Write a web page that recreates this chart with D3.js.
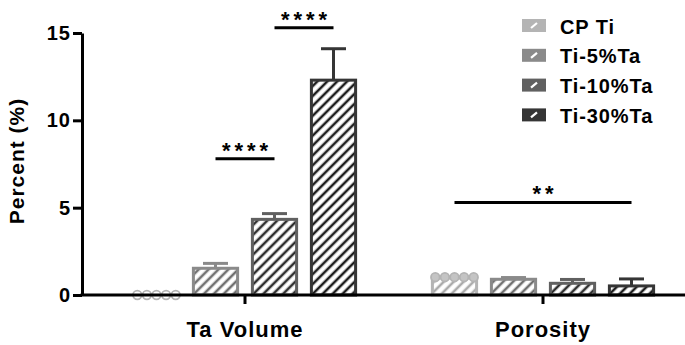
<!DOCTYPE html>
<html lang="en">
<head>
<meta charset="UTF-8">
<title>Ta volume and porosity</title>
<script src="https://cdn.jsdelivr.net/npm/d3@7"></script>
<style>
  html, body { margin: 0; padding: 0; background: #fff; }
  text { font-family: "Liberation Sans", Arial, sans-serif; font-weight: bold; }
</style>
</head>
<body>
<div id="chart-container"></div>
<script>

  // data
  var categories = ["Ta Volume", "Porosity"];
  var seriesNames = ["CP Ti", "Ti-5%Ta", "Ti-10%Ta", "Ti-30%Ta"];
  var taVolumeMean = [0.02, 1.53, 4.33, 12.3];
  var taVolumeSD = [0, 0.28, 0.33, 1.8];
  var porosityMean = [0.98, 0.9, 0.67, 0.52];
  var porositySD = [0.05, 0.1, 0.22, 0.4];
  var cpTiTaVolumePoints = [0, 0, 0, 0, 0];
  var cpTiPorosityPoints = [1.02, 1.02, 1.02, 1.02, 1.02];
  var yTicks = [0, 5, 10, 15];
  var sigLabels = ["****", "****", "**"];

  var outlineColors = ["#b4b4b4", "#8a8a8a", "#606060", "#353535"];
  var hatchColors = ["#ababab", "#707070", "#2e2e2e", "#1e1e1e"];

  var width = 685, height = 345;

  var svg = d3.select("#chart-container").append("svg")
    .attr("width", width).attr("height", height);

  var y = d3.scaleLinear().domain([0, 15]).range([295, 33]);
  var x0 = d3.scaleBand().domain(categories).range([96, 692]);
  var x1 = d3.scaleBand().domain(seriesNames).range([0, 236])
    .paddingInner(0.2).paddingOuter(0.1);

  function barLeft(cat, s) {
    return x0(cat) + x0.bandwidth() / 2 - 118 + x1(s);
  }
  function barCenter(cat, s) {
    return barLeft(cat, s) + x1.bandwidth() / 2;
  }

  // hatch patterns
  var defs = svg.append("defs");
  seriesNames.forEach(function(s, i) {
    var p = defs.append("pattern")
      .attr("id", "hatch" + i)
      .attr("patternUnits", "userSpaceOnUse")
      .attr("width", 7).attr("height", 7)
      .attr("patternTransform", "rotate(45)");
    p.append("rect").attr("width", 7).attr("height", 7).attr("fill", "#fff");
    p.append("line").attr("x1", 2).attr("y1", 0).attr("x2", 2).attr("y2", 7)
      .attr("stroke", hatchColors[i]).attr("stroke-width", 2.6);
  });

  var rows = [];
  categories.forEach(function(cat, c) {
    var means = c === 0 ? taVolumeMean : porosityMean;
    var sds = c === 0 ? taVolumeSD : porositySD;
    seriesNames.forEach(function(s, i) {
      rows.push({ cat: cat, s: s, i: i, mean: means[i], sd: sds[i] });
    });
  });

  // error bars (upper only)
  var eb = svg.append("g").selectAll("g").data(rows.filter(function(d) { return d.sd > 0; }))
    .enter().append("g")
    .attr("stroke", function(d) { return outlineColors[d.i]; })
    .attr("stroke-width", 3);
  eb.append("line")
    .attr("x1", function(d) { return barCenter(d.cat, d.s); })
    .attr("x2", function(d) { return barCenter(d.cat, d.s); })
    .attr("y1", function(d) { return y(d.mean); })
    .attr("y2", function(d) { return y(d.mean + d.sd); });
  eb.append("line")
    .attr("x1", function(d) { return barCenter(d.cat, d.s) - 12.5; })
    .attr("x2", function(d) { return barCenter(d.cat, d.s) + 12.5; })
    .attr("y1", function(d) { return y(d.mean + d.sd); })
    .attr("y2", function(d) { return y(d.mean + d.sd); });

  // bars
  svg.append("g").selectAll("rect").data(rows)
    .enter().append("rect")
    .attr("x", function(d) { return barLeft(d.cat, d.s) + 1.5; })
    .attr("width", x1.bandwidth() - 3)
    .attr("y", function(d) { return y(d.mean); })
    .attr("height", function(d) { return y(0) - y(d.mean); })
    .attr("fill", function(d) { return "url(#hatch" + d.i + ")"; })
    .attr("stroke", function(d) { return outlineColors[d.i]; })
    .attr("stroke-width", 3);

  // CP Ti data points
  function drawPoints(cat, pts, fill) {
    var n = pts.length;
    svg.append("g").selectAll("circle").data(pts)
      .enter().append("circle")
      .attr("cx", function(d, k) { return barCenter(cat, "CP Ti") + (k - (n - 1) / 2) * 9.6; })
      .attr("cy", function(d) { return y(d); })
      .attr("r", 4.3)
      .attr("fill", fill)
      .attr("stroke", outlineColors[0])
      .attr("stroke-width", 1.8);
  }
  drawPoints(categories[0], cpTiTaVolumePoints, "#fff");
  drawPoints(categories[1], cpTiPorosityPoints, "#c4c4c4");

  // y axis
  var yAxis = svg.append("g")
    .attr("transform", "translate(82,0)")
    .call(d3.axisLeft(y).tickValues(yTicks).tickSize(9).tickPadding(2).tickSizeOuter(0));
  yAxis.select(".domain").attr("stroke", "#000").attr("stroke-width", 3);
  yAxis.selectAll(".tick line").attr("stroke-width", 3);
  yAxis.selectAll(".tick text").attr("font-size", 20).attr("font-family", "Liberation Sans, Arial, sans-serif")
    .attr("font-weight", "bold").attr("fill", "#000").attr("letter-spacing", 1);

  // x axis
  svg.append("line").attr("x1", 80.5).attr("x2", 685).attr("y1", y(0)).attr("y2", y(0))
    .attr("stroke", "#000").attr("stroke-width", 3);
  var xAxis = svg.append("g").attr("transform", "translate(0," + y(0) + ")");
  xAxis.selectAll("line").data(categories).enter().append("line")
    .attr("x1", function(d) { return x0(d) + x0.bandwidth() / 2; })
    .attr("x2", function(d) { return x0(d) + x0.bandwidth() / 2; })
    .attr("y1", 0).attr("y2", 9)
    .attr("stroke", "#000").attr("stroke-width", 3);
  xAxis.selectAll("text").data(categories).enter().append("text")
    .attr("x", function(d) { return x0(d) + x0.bandwidth() / 2; })
    .attr("y", 41.5)
    .attr("text-anchor", "middle")
    .attr("font-size", 22)
    .attr("letter-spacing", 1)
    .text(function(d) { return d; });

  // y title
  svg.append("text")
    .attr("transform", "translate(24,161) rotate(-90)")
    .attr("text-anchor", "middle")
    .attr("font-size", 21)
    .attr("letter-spacing", 1)
    .text("Percent (%)");

  // significance brackets
  var sig = [
    { from: [categories[0], "Ti-5%Ta"], to: [categories[0], "Ti-10%Ta"], level: 7.8, label: sigLabels[0] },
    { from: [categories[0], "Ti-10%Ta"], to: [categories[0], "Ti-30%Ta"], level: 15.3, label: sigLabels[1] },
    { from: [categories[1], "CP Ti"], to: [categories[1], "Ti-30%Ta"], level: 5.3, label: sigLabels[2] }
  ];
  var sg = svg.append("g").selectAll("g").data(sig).enter().append("g");
  sg.append("line")
    .attr("x1", function(d) { return barCenter(d.from[0], d.from[1]); })
    .attr("x2", function(d) { return barCenter(d.to[0], d.to[1]); })
    .attr("y1", function(d) { return y(d.level); })
    .attr("y2", function(d) { return y(d.level); })
    .attr("stroke", "#000").attr("stroke-width", 3);
  sg.append("text")
    .attr("x", function(d) { return (barCenter(d.from[0], d.from[1]) + barCenter(d.to[0], d.to[1])) / 2 + 2; })
    .attr("y", function(d) { return y(d.level) - 1; })
    .attr("text-anchor", "middle")
    .attr("font-size", 22)
    .attr("letter-spacing", 4)
    .text(function(d) { return d.label; });

  // legend
  var lg = svg.append("g").selectAll("g").data(seriesNames).enter().append("g")
    .attr("transform", function(d, i) { return "translate(522," + (19 + i * 29.8) + ")"; });
  lg.append("rect")
    .attr("width", 24).attr("height", 13)
    .attr("fill", function(d, i) { return outlineColors[i]; });
  lg.append("line")
    .attr("x1", 9).attr("y1", 9).attr("x2", 15).attr("y2", 4)
    .attr("stroke", "#fff").attr("stroke-width", 2.2);
  lg.append("text")
    .attr("x", 38).attr("y", 14.5)
    .attr("font-size", 20)
    .attr("letter-spacing", 0.9)
    .text(function(d) { return d; });

</script>
</body>
</html>
